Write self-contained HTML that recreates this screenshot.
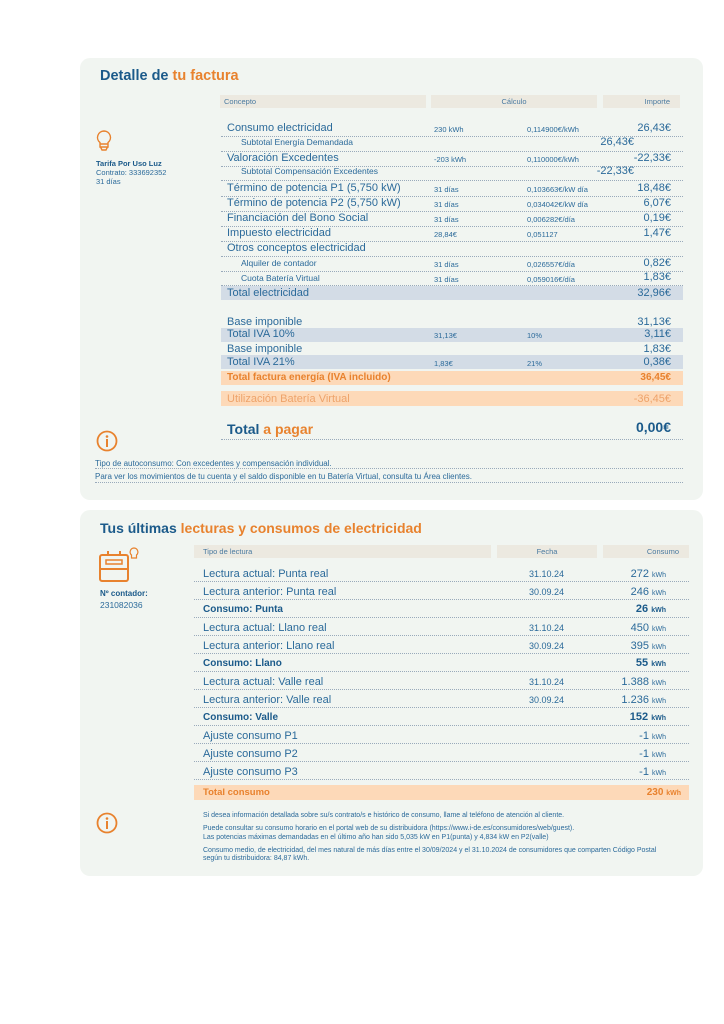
<!DOCTYPE html>
<html><head><meta charset="utf-8"><style>
body{margin:0;width:724px;height:1024px;background:#fff;position:relative;font-family:"Liberation Sans",sans-serif;color:#2b6a9a;overflow:hidden}
.card{position:absolute;left:80px;width:623px;background:#f1f5f1;border-radius:10px}
.a{position:absolute;white-space:nowrap}
.hd{position:absolute;background:#ece9e0;height:13px;font-size:7.5px;line-height:13px;color:#4a7aa0}
.row{position:absolute;height:15px;border-bottom:1px dotted #9ab}
.t{font-size:11px;line-height:14px}
.s{font-size:7.5px}
.r{text-align:right}
.band{position:absolute;height:14px}
.or{color:#e8822e}
.db{color:#1b5a8a}
</style></head><body>
<div class="card" style="top:58px;height:442px"></div>
<div class="card" style="top:510px;height:366px"></div>

<div class="a db" style="left:100px;top:68px;font-size:14.5px;font-weight:bold">Detalle de <span class="or">tu factura</span></div>
<div class="hd" style="left:220px;top:95px;width:206px;padding-left:4px;box-sizing:border-box">Concepto</div>
<div class="hd" style="left:431px;top:95px;width:166px;text-align:center">Cálculo</div>
<div class="hd" style="left:603px;top:95px;width:77px;text-align:right;padding-right:10px;box-sizing:border-box">Importe</div>

<svg class="a" style="left:96px;top:130px" width="16" height="22" viewBox="0 0 16 22"><path d="M8 1a6.5 6.5 0 0 0-4 11.6V17h8v-4.4A6.5 6.5 0 0 0 8 1zM4.5 17l1.5 3h4l1.5-3M4 14h8" fill="none" stroke="#e8822e" stroke-width="1.4"/></svg>
<div class="a db" style="left:96px;top:159px;font-size:7.5px;font-weight:bold">Tarifa Por Uso Luz</div>
<div class="a" style="left:96px;top:168px;font-size:7.5px">Contrato: 333692352</div>
<div class="a" style="left:96px;top:177px;font-size:7.5px">31 días</div>

<div class="row" style="left:221px;top:121px;width:462px"></div><div class="a t" style="left:227px;top:121px">Consumo electricidad</div><div class="a s" style="left:434px;top:125px">230 kWh</div><div class="a s" style="left:527px;top:125px">0,114900€/kWh</div><div class="a t r" style="right:53px;top:121px">26,43€</div>
<div class="row" style="left:221px;top:136px;width:462px"></div><div class="a" style="left:241px;top:137px;font-size:8.5px">Subtotal Energía Demandada</div><div class="a t r" style="right:90px;top:135px">26,43€</div>
<div class="row" style="left:221px;top:151px;width:462px"></div><div class="a t" style="left:227px;top:151px">Valoración Excedentes</div><div class="a s" style="left:434px;top:155px">-203 kWh</div><div class="a s" style="left:527px;top:155px">0,110000€/kWh</div><div class="a t r" style="right:53px;top:151px">-22,33€</div>
<div class="row" style="left:221px;top:165px;width:462px"></div><div class="a" style="left:241px;top:166px;font-size:8.5px">Subtotal Compensación Excedentes</div><div class="a t r" style="right:90px;top:164px">-22,33€</div>
<div class="row" style="left:221px;top:181px;width:462px"></div><div class="a t" style="left:227px;top:181px">Término de potencia P1 (5,750 kW)</div><div class="a s" style="left:434px;top:185px">31 días</div><div class="a s" style="left:527px;top:185px">0,103663€/kW día</div><div class="a t r" style="right:53px;top:181px">18,48€</div>
<div class="row" style="left:221px;top:196px;width:462px"></div><div class="a t" style="left:227px;top:196px">Término de potencia P2 (5,750 kW)</div><div class="a s" style="left:434px;top:200px">31 días</div><div class="a s" style="left:527px;top:200px">0,034042€/kW día</div><div class="a t r" style="right:53px;top:196px">6,07€</div>
<div class="row" style="left:221px;top:211px;width:462px"></div><div class="a t" style="left:227px;top:211px">Financiación del Bono Social</div><div class="a s" style="left:434px;top:215px">31 días</div><div class="a s" style="left:527px;top:215px">0,006282€/día</div><div class="a t r" style="right:53px;top:211px">0,19€</div>
<div class="row" style="left:221px;top:226px;width:462px"></div><div class="a t" style="left:227px;top:226px">Impuesto electricidad</div><div class="a s" style="left:434px;top:230px">28,84€</div><div class="a s" style="left:527px;top:230px">0,051127</div><div class="a t r" style="right:53px;top:226px">1,47€</div>
<div class="row" style="left:221px;top:241px;width:462px"></div><div class="a t" style="left:227px;top:241px">Otros conceptos electricidad</div>
<div class="row" style="left:221px;top:256px;width:462px"></div><div class="a" style="left:241px;top:258px;font-size:8.5px">Alquiler de contador</div><div class="a s" style="left:434px;top:260px">31 días</div><div class="a s" style="left:527px;top:260px">0,026557€/día</div><div class="a t r" style="right:53px;top:256px">0,82€</div>
<div class="row" style="left:221px;top:270px;width:462px"></div><div class="a" style="left:241px;top:273px;font-size:8.5px">Cuota Batería Virtual</div><div class="a s" style="left:434px;top:275px">31 días</div><div class="a s" style="left:527px;top:275px">0,059016€/día</div><div class="a t r" style="right:53px;top:270px">1,83€</div>
<div class="band" style="left:221px;top:286px;width:462px;background:#d3dce6"></div><div class="a t" style="left:227px;top:286px">Total electricidad</div><div class="a t r" style="right:53px;top:286px">32,96€</div>

<div class="a t" style="left:227px;top:315px">Base imponible</div><div class="a t r" style="right:53px;top:315px">31,13€</div>
<div class="band" style="left:221px;top:328px;width:462px;background:#d3dce6"></div><div class="a t" style="left:227px;top:327px">Total IVA 10%</div><div class="a s" style="left:434px;top:331px">31,13€</div><div class="a s" style="left:527px;top:331px">10%</div><div class="a t r" style="right:53px;top:327px">3,11€</div>
<div class="a t" style="left:227px;top:342px">Base imponible</div><div class="a t r" style="right:53px;top:342px">1,83€</div>
<div class="band" style="left:221px;top:355px;width:462px;background:#d3dce6"></div><div class="a t" style="left:227px;top:355px">Total IVA 21%</div><div class="a s" style="left:434px;top:359px">1,83€</div><div class="a s" style="left:527px;top:359px">21%</div><div class="a t r" style="right:53px;top:355px">0,38€</div>
<div class="band" style="left:221px;top:371px;width:462px;background:#fdd9b8"></div><div class="a or" style="left:227px;top:372px;font-size:10px;font-weight:bold">Total factura energía (IVA incluido)</div><div class="a or r" style="right:53px;top:372px;font-size:10px;font-weight:bold">36,45€</div>
<div class="band" style="left:221px;top:391px;width:462px;height:15px;background:#fdd9b8"></div><div class="a t" style="left:227px;top:392px;color:#eea36a">Utilización Batería Virtual</div><div class="a t r" style="right:53px;top:392px;color:#eea36a">-36,45€</div>
<div class="a db" style="left:227px;top:421px;font-size:14px;font-weight:bold">Total <span class="or">a pagar</span></div><div class="a db r" style="right:53px;top:419px;font-size:14px;font-weight:bold">0,00€</div>
<div class="row" style="left:221px;top:424px;width:462px"></div>

<svg class="a" style="left:96px;top:430px" width="22" height="22"><circle cx="11" cy="11" r="9.5" fill="none" stroke="#e8822e" stroke-width="1.8"/><circle cx="11" cy="6.5" r="1.3" fill="#e8822e"/><rect x="10" y="9" width="2" height="8" fill="#e8822e"/></svg>
<div class="a" style="left:95px;top:459px;font-size:8px">Tipo de autoconsumo: Con excedentes y compensación individual.</div>
<div class="row" style="left:95px;top:454px;width:588px;height:14px"></div>
<div class="a" style="left:95px;top:472px;font-size:8px">Para ver los movimientos de tu cuenta y el saldo disponible en tu Batería Virtual, consulta tu Área clientes.</div>
<div class="row" style="left:95px;top:468px;width:588px;height:14px"></div>

<div class="a db" style="left:100px;top:520px;font-size:14px;font-weight:bold">Tus últimas <span class="or">lecturas y consumos de electricidad</span></div>
<div class="hd" style="left:194px;top:545px;width:297px;padding-left:9px;box-sizing:border-box">Tipo de lectura</div>
<div class="hd" style="left:497px;top:545px;width:100px;text-align:center">Fecha</div>
<div class="hd" style="left:603px;top:545px;width:86px;text-align:right;padding-right:10px;box-sizing:border-box">Consumo</div>
<svg class="a" style="left:98px;top:547px" width="44" height="36"><rect x="2" y="8" width="28" height="26" rx="2" fill="none" stroke="#e8822e" stroke-width="2"/><line x1="2" y1="22" x2="30" y2="22" stroke="#e8822e" stroke-width="2"/><rect x="8" y="13" width="16" height="4" fill="none" stroke="#e8822e" stroke-width="1.5"/><line x1="10" y1="4" x2="10" y2="8" stroke="#e8822e" stroke-width="2"/><line x1="22" y1="4" x2="22" y2="8" stroke="#e8822e" stroke-width="2"/><path d="M36 1a4 4 0 0 0-2.5 7v3h5V8A4 4 0 0 0 36 1z" fill="none" stroke="#e8822e" stroke-width="1.2"/></svg>
<div class="a db" style="left:100px;top:589px;font-size:8px;font-weight:bold">Nº contador:</div>
<div class="a" style="left:100px;top:600px;font-size:8.5px">231082036</div>

<div class="row" style="left:194px;top:566px;width:495px"></div><div class="a t" style="left:203px;top:567px">Lectura actual: Punta real</div><div class="a" style="left:529px;top:569px;font-size:9px">31.10.24</div><div class="a t r" style="right:58px;top:567px">272 <span style="font-size:7px">kWh</span></div>
<div class="row" style="left:194px;top:584px;width:495px"></div><div class="a t" style="left:203px;top:585px">Lectura anterior: Punta real</div><div class="a" style="left:529px;top:587px;font-size:9px">30.09.24</div><div class="a t r" style="right:58px;top:585px">246 <span style="font-size:7px">kWh</span></div>
<div class="row" style="left:194px;top:602px;width:495px"></div><div class="a db" style="left:203px;top:604px;font-size:10px;font-weight:bold">Consumo: Punta</div><div class="a db r" style="right:58px;top:603px;font-size:11px;font-weight:bold">26 <span style="font-size:7px">kWh</span></div>
<div class="row" style="left:194px;top:620px;width:495px"></div><div class="a t" style="left:203px;top:621px">Lectura actual: Llano real</div><div class="a" style="left:529px;top:623px;font-size:9px">31.10.24</div><div class="a t r" style="right:58px;top:621px">450 <span style="font-size:7px">kWh</span></div>
<div class="row" style="left:194px;top:638px;width:495px"></div><div class="a t" style="left:203px;top:639px">Lectura anterior: Llano real</div><div class="a" style="left:529px;top:641px;font-size:9px">30.09.24</div><div class="a t r" style="right:58px;top:639px">395 <span style="font-size:7px">kWh</span></div>
<div class="row" style="left:194px;top:656px;width:495px"></div><div class="a db" style="left:203px;top:658px;font-size:10px;font-weight:bold">Consumo: Llano</div><div class="a db r" style="right:58px;top:657px;font-size:11px;font-weight:bold">55 <span style="font-size:7px">kWh</span></div>
<div class="row" style="left:194px;top:674px;width:495px"></div><div class="a t" style="left:203px;top:675px">Lectura actual: Valle real</div><div class="a" style="left:529px;top:677px;font-size:9px">31.10.24</div><div class="a t r" style="right:58px;top:675px">1.388 <span style="font-size:7px">kWh</span></div>
<div class="row" style="left:194px;top:692px;width:495px"></div><div class="a t" style="left:203px;top:693px">Lectura anterior: Valle real</div><div class="a" style="left:529px;top:695px;font-size:9px">30.09.24</div><div class="a t r" style="right:58px;top:693px">1.236 <span style="font-size:7px">kWh</span></div>
<div class="row" style="left:194px;top:710px;width:495px"></div><div class="a db" style="left:203px;top:712px;font-size:10px;font-weight:bold">Consumo: Valle</div><div class="a db r" style="right:58px;top:711px;font-size:11px;font-weight:bold">152 <span style="font-size:7px">kWh</span></div>
<div class="row" style="left:194px;top:728px;width:495px"></div><div class="a t" style="left:203px;top:729px">Ajuste consumo P1</div><div class="a t r" style="right:58px;top:729px">-1 <span style="font-size:7px">kWh</span></div>
<div class="row" style="left:194px;top:746px;width:495px"></div><div class="a t" style="left:203px;top:747px">Ajuste consumo P2</div><div class="a t r" style="right:58px;top:747px">-1 <span style="font-size:7px">kWh</span></div>
<div class="row" style="left:194px;top:764px;width:495px"></div><div class="a t" style="left:203px;top:765px">Ajuste consumo P3</div><div class="a t r" style="right:58px;top:765px">-1 <span style="font-size:7px">kWh</span></div>
<div class="band" style="left:194px;top:785px;width:495px;height:15px;background:#fdd9b8"></div><div class="a or" style="left:203px;top:787px;font-size:9.5px;font-weight:bold">Total consumo</div><div class="a or r" style="right:43px;top:787px;font-size:10px;font-weight:bold">230 <span style="font-size:7px">kWh</span></div>

<svg class="a" style="left:96px;top:812px" width="22" height="22"><circle cx="11" cy="11" r="9.5" fill="none" stroke="#e8822e" stroke-width="1.8"/><circle cx="11" cy="6.5" r="1.3" fill="#e8822e"/><rect x="10" y="9" width="2" height="8" fill="#e8822e"/></svg>
<div class="a" style="left:203px;top:812px;font-size:7px">Si desea información detallada sobre su/s contrato/s e histórico de consumo, llame al teléfono de atención al cliente.</div>
<div class="a" style="left:203px;top:825px;font-size:7px">Puede consultar su consumo horario en el portal web de su distribuidora (https://www.i-de.es/consumidores/web/guest).</div>
<div class="a" style="left:203px;top:834px;font-size:7px">Las potencias máximas demandadas en el último año han sido 5,035 kW en P1(punta) y 4,834 kW en P2(valle)</div>
<div class="a" style="left:203px;top:847px;font-size:7px">Consumo medio, de electricidad, del mes natural de más días entre el 30/09/2024 y el 31.10.2024 de consumidores que comparten Código Postal</div>
<div class="a" style="left:203px;top:855px;font-size:7px">según tu distribuidora: 84,87 kWh.</div>
</body></html>
